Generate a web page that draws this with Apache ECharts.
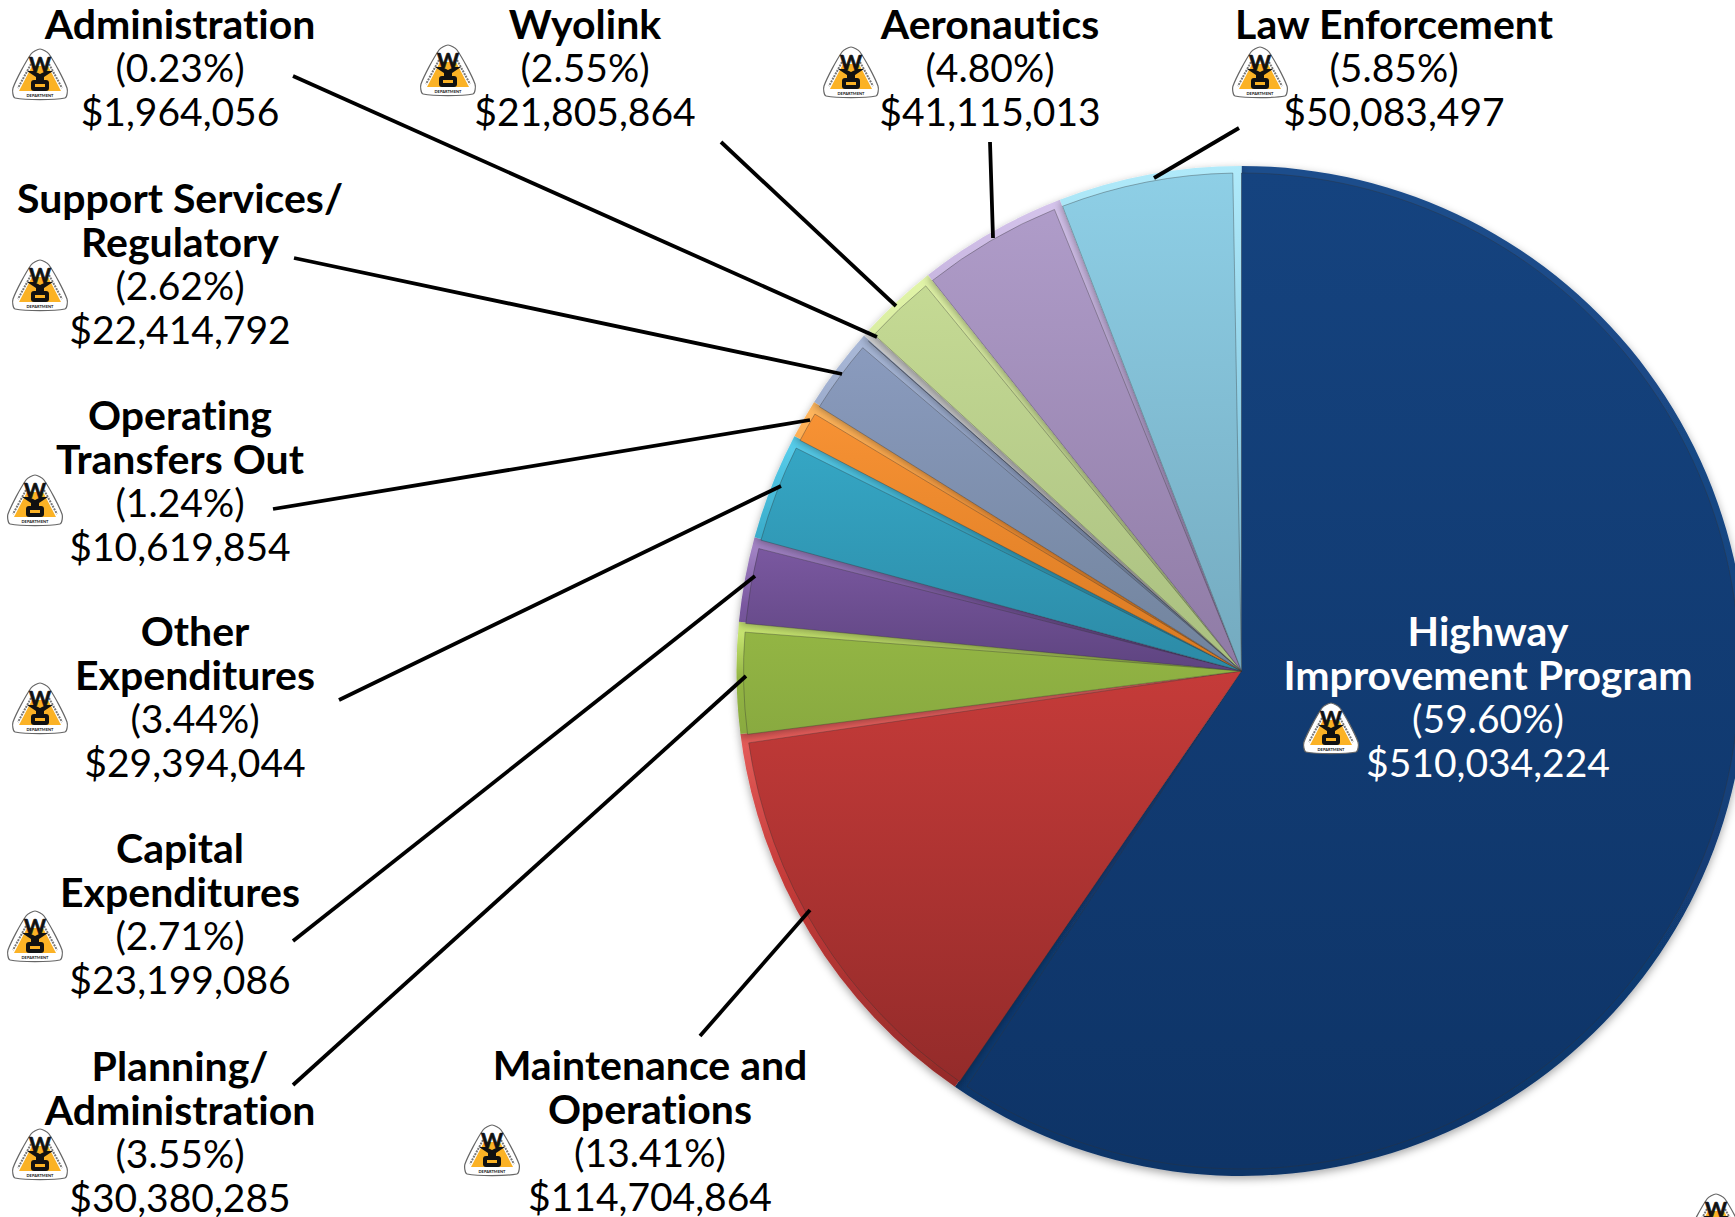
<!DOCTYPE html>
<html>
<head>
<meta charset="utf-8">
<title>WYDOT expenditures</title>
<style>
    html, body { margin: 0; padding: 0; background: #fff; }
    #main { width: 1735px; height: 1217px; }
    #main text { font-variant-ligatures: none; }
</style>
<script src="https://cdn.jsdelivr.net/npm/echarts@6/dist/echarts.min.js"></script>
</head>
<body>
<div id="main"></div>
<script>
// clockwise from 12 o'clock
const categories = [
    'Highway\nImprovement Program',
    'Maintenance and\nOperations',
    'Planning/\nAdministration',
    'Capital\nExpenditures',
    'Other\nExpenditures',
    'Operating\nTransfers Out',
    'Support Services/\nRegulatory',
    'Administration',
    'Wyolink',
    'Aeronautics',
    'Law Enforcement'
];
const amounts = [510034224, 114704864, 30380285, 23199086, 29394044, 10619854, 22414792, 1964056, 21805864, 41115013, 50083497];
const percents = ['59.60', '13.41', '3.55', '2.71', '3.44', '1.24', '2.62', '0.23', '2.55', '4.80', '5.85'];

// slice colours: top, bottom, bevel
const colorTop = ['#15437F', '#C53B39', '#93B544', '#7A58A0', '#35A6C4', '#F79234', '#8A9BBE', '#B9B9B9', '#C5DA94', '#AF9CC9', '#8ECFE6'];
const colorBottom = ['#0E3467', '#942B2A', '#89AA40', '#5E4480', '#2C8AA6', '#D97A22', '#71839C', '#A8A8A8', '#A9BF80', '#8F7BA5', '#74AABF'];
const colorBevel = ['#1E4E8C', '#F26B68', '#D3F07A', '#A98BCB', '#5AD0EE', '#FFB860', '#AAB9D8', '#D0D0D0', '#E2F5A8', '#D5C4EC', '#B0EAFA'];

// centre of first text line of each label
const labelPos = [
    [1488, 630], [650, 1064], [180, 1065], [180, 847], [195, 630],
    [180, 414], [180, 197], [180, 23], [585, 23], [990, 23], [1394, 23]
];
// leader lines, [x1, y1, x2, y2], same order (first one has no leader)
const leaders = [
    null,
    [700, 1036, 810, 910],
    [293, 1085, 746, 676],
    [293, 941, 755, 576],
    [339, 700, 781, 486],
    [273, 509, 810, 420],
    [294, 258, 842, 374],
    [293, 76, 877, 337],
    [721, 142, 896, 306],
    [990, 142, 993, 238],
    [1239, 128, 1154, 178]
];
// logo centres
const logos = [
    [1331, 728], [492, 1150], [40, 1154], [35, 936], [40, 708],
    [35, 500], [40, 285], [40, 74], [448, 70], [851, 72], [1260, 72], [1716, 1219]
];

const FONT = 'Lato, "Open Sans", sans-serif';
const pieCenter = [1241.5, 671];

function vert(stops) {
    return new echarts.graphic.LinearGradient(0, 0, 0, 1, stops.map(function (c, i) {
        return { offset: i / (stops.length - 1), color: c };
    }));
}

function logo(pos) {
    let parts = [
        { type: 'polygon', shape: { points: [[0, -25], [9, -20], [27, 14], [25, 24], [-25, 24], [-27, 14], [-9, -20]], smooth: 0.25 },
          style: { fill: '#fff', stroke: '#666', lineWidth: 1.2 } },
        { type: 'polygon', shape: { points: [[-8, -8], [8, -8], [21, 17], [-21, 17]] }, style: { fill: '#FBB225' } },
        { type: 'polyline', shape: { points: [[-9, -10], [-22, 14]] }, style: { stroke: '#777', lineWidth: 2, lineDash: [2, 1], fill: null } },
        { type: 'polyline', shape: { points: [[9, -10], [22, 14]] }, style: { stroke: '#777', lineWidth: 2, lineDash: [2, 1], fill: null } },
        { type: 'text', style: { x: 0, y: -11, text: 'W', fill: '#111', stroke: '#111', lineWidth: 0.7, font: 'bold 21px ' + FONT, align: 'center', verticalAlign: 'middle' } },
        { type: 'polygon', shape: { points: [[-13, -3], [-6, -3], [0, 0], [6, -3], [13, -3], [4, 3], [4, 7], [-4, 7], [-4, 3]] }, style: { fill: '#111' } },
        { type: 'rect', shape: { x: -9, y: 6, width: 18, height: 11, r: 3 }, style: { fill: '#111' } },
        { type: 'rect', shape: { x: -5, y: 10, width: 10, height: 3 }, style: { fill: '#FBB225' } },
        { type: 'text', style: { x: 0, y: 21, text: 'DEPARTMENT', fill: '#111', font: 'bold 4px ' + FONT, align: 'center', verticalAlign: 'middle' } }
    ];
    // group z does not reach the children
    parts.forEach(function (c) { c.z = 20; });
    return { type: 'group', x: pos[0], y: pos[1], children: parts };
}

const pieData = categories.map(function (name, i) {
    return { name: name, value: amounts[i] };
});

const bevelData = pieData.map(function (d, i) {
    return {
        name: d.name,
        value: d.value,
        itemStyle: { color: vert([colorBevel[i], colorTop[i], colorBottom[i]]) }
    };
});

function richText(color) {
    return {
        b: { fontFamily: FONT, fontSize: 41, fontWeight: 'bold', lineHeight: 44, color: color },
        n: { fontFamily: FONT, fontSize: 39, lineHeight: 44, color: color }
    };
}

const mainData = pieData.map(function (d, i) {
    return {
        name: d.name,
        value: d.value,
        itemStyle: { color: vert([colorTop[i], colorBottom[i]]) },
        // outside labels get dropped here, the pie runs off the right edge
        label: i === 0 ? { position: 'inside', rich: richText('#fff') } : undefined
    };
});

const leaderLines = leaders.filter(Boolean).map(function (l) {
    return {
        type: 'line',
        z: 9,
        shape: { x1: l[0], y1: l[1], x2: l[2], y2: l[3] },
        style: { stroke: '#000', lineWidth: 3.8 }
    };
});

// svg renderer so the css above can turn off Lato's ti ligature
const chart = echarts.init(document.getElementById('main'), null, { renderer: 'svg' });

chart.setOption({
    animation: false,
    backgroundColor: '#fff',
    tooltip: { show: false },
    legend: { show: false },
    graphic: leaderLines.concat(logos.map(logo)),
    series: [
        {
            // lighter layer, shows through as the bevel
            type: 'pie',
            silent: true,
            center: pieCenter,
            radius: [0, 505],
            startAngle: 90,
            clockwise: true,
            data: bevelData,
            label: { show: false },
            labelLine: { show: false },
            itemStyle: { shadowBlur: 8, shadowColor: 'rgba(0,0,0,0.35)', shadowOffsetY: 3 },
            z: 1
        },
        {
            type: 'pie',
            silent: true,
            center: pieCenter,
            radius: [0, 498],
            startAngle: 90.5,
            clockwise: true,
            padAngle: 1,
            data: mainData,
            itemStyle: { borderColor: 'rgba(50,50,50,0.35)', borderWidth: 1 },
            label: {
                show: true,
                position: 'outside',
                alignTo: 'none',
                formatter: function (p) {
                    let i = p.dataIndex;
                    let names = categories[i].split('\n').map(function (s) {
                        return '{b|' + s + '}';
                    });
                    return names.concat([
                        '{n|(' + percents[i] + '%)}',
                        '{n|$' + amounts[i].toLocaleString('en-US') + '}'
                    ]).join('\n');
                },
                rich: richText('#000')
            },
            labelLine: { show: false },
            labelLayout: function (p) {
                let pos = labelPos[p.dataIndex];
                return {
                    x: pos[0],
                    y: pos[1] - 22,
                    align: 'center',
                    verticalAlign: 'top',
                    hideOverlap: false
                };
            },
            z: 2
        }
    ]
});
</script>
</body>
</html>
